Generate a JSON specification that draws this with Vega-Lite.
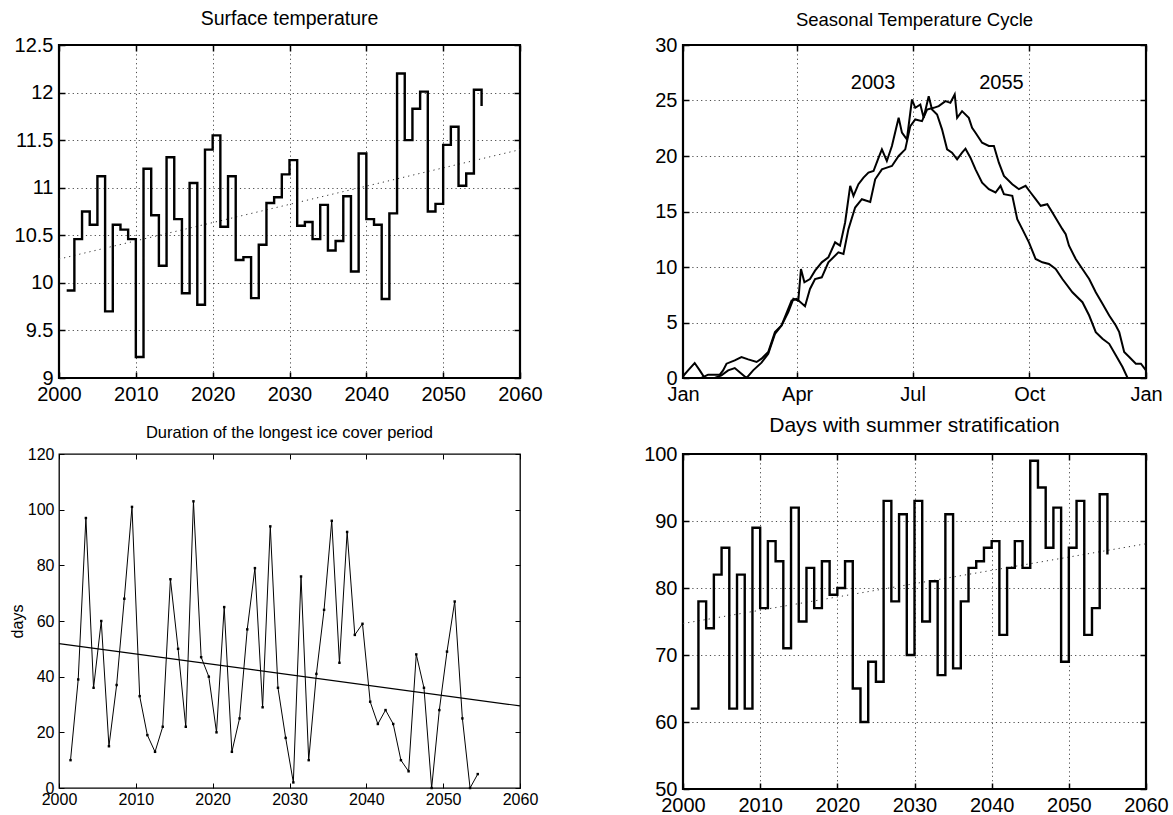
{
  "$schema": "https://vega.github.io/schema/vega-lite/v6.json",
  "background": "white",
  "padding": {"left": 8, "top": 7, "right": 5, "bottom": 2},
  "columns": 2,
  "spacing": {"row": 76, "column": 163},
  "bounds": "flush",
  "config": {
    "font": "Liberation Sans",
    "view": {"stroke": "black", "strokeWidth": 2.2},
    "axis": {
      "domain": false,
      "labelColor": "black",
      "labelFontSize": 20,
      "labelFlush": false,
      "labelOverlap": false,
      "tickColor": "black",
      "tickSize": -6,
      "tickWidth": 1.5,
      "labelPadding": 12,
      "gridColor": "black",
      "gridDash": [1.2, 3.2],
      "gridOpacity": 0.7,
      "gridWidth": 1,
      "titleColor": "black",
      "titleFontWeight": "normal"
    },
    "title": {"fontSize": 19, "fontWeight": "normal", "color": "black", "offset": 6}
  },
  "datasets": {
    "surf": [
      {"year": 2001, "v": 9.92}, {"year": 2002, "v": 10.46}, {"year": 2003, "v": 10.75}, {"year": 2004, "v": 10.61}, {"year": 2005, "v": 11.12},
      {"year": 2006, "v": 9.70}, {"year": 2007, "v": 10.61}, {"year": 2008, "v": 10.56}, {"year": 2009, "v": 10.46}, {"year": 2010, "v": 9.22},
      {"year": 2011, "v": 11.20}, {"year": 2012, "v": 10.71}, {"year": 2013, "v": 10.18}, {"year": 2014, "v": 11.32}, {"year": 2015, "v": 10.67},
      {"year": 2016, "v": 9.89}, {"year": 2017, "v": 11.05}, {"year": 2018, "v": 9.77}, {"year": 2019, "v": 11.40}, {"year": 2020, "v": 11.55},
      {"year": 2021, "v": 10.59}, {"year": 2022, "v": 11.12}, {"year": 2023, "v": 10.24}, {"year": 2024, "v": 10.27}, {"year": 2025, "v": 9.84},
      {"year": 2026, "v": 10.40}, {"year": 2027, "v": 10.84}, {"year": 2028, "v": 10.90}, {"year": 2029, "v": 11.14}, {"year": 2030, "v": 11.29},
      {"year": 2031, "v": 10.60}, {"year": 2032, "v": 10.64}, {"year": 2033, "v": 10.46}, {"year": 2034, "v": 10.82}, {"year": 2035, "v": 10.34},
      {"year": 2036, "v": 10.44}, {"year": 2037, "v": 10.91}, {"year": 2038, "v": 10.12}, {"year": 2039, "v": 11.36}, {"year": 2040, "v": 10.67},
      {"year": 2041, "v": 10.61}, {"year": 2042, "v": 9.83}, {"year": 2043, "v": 10.73}, {"year": 2044, "v": 12.20}, {"year": 2045, "v": 11.50},
      {"year": 2046, "v": 11.83}, {"year": 2047, "v": 12.01}, {"year": 2048, "v": 10.75}, {"year": 2049, "v": 10.83}, {"year": 2050, "v": 11.45},
      {"year": 2051, "v": 11.64}, {"year": 2052, "v": 11.02}, {"year": 2053, "v": 11.15}, {"year": 2054, "v": 12.03}, {"year": 2055, "v": 11.86}
    ],
    "surfTrend": [{"year": 2000, "v": 10.25}, {"year": 2060, "v": 11.40}],
    "strat": [
      {"year": 2001, "v": 62}, {"year": 2002, "v": 78}, {"year": 2003, "v": 74}, {"year": 2004, "v": 82}, {"year": 2005, "v": 86},
      {"year": 2006, "v": 62}, {"year": 2007, "v": 82}, {"year": 2008, "v": 62}, {"year": 2009, "v": 89}, {"year": 2010, "v": 77},
      {"year": 2011, "v": 87}, {"year": 2012, "v": 84}, {"year": 2013, "v": 71}, {"year": 2014, "v": 92}, {"year": 2015, "v": 75},
      {"year": 2016, "v": 83}, {"year": 2017, "v": 77}, {"year": 2018, "v": 84}, {"year": 2019, "v": 79}, {"year": 2020, "v": 80},
      {"year": 2021, "v": 84}, {"year": 2022, "v": 65}, {"year": 2023, "v": 60}, {"year": 2024, "v": 69}, {"year": 2025, "v": 66},
      {"year": 2026, "v": 93}, {"year": 2027, "v": 78}, {"year": 2028, "v": 91}, {"year": 2029, "v": 70}, {"year": 2030, "v": 93},
      {"year": 2031, "v": 75}, {"year": 2032, "v": 81}, {"year": 2033, "v": 67}, {"year": 2034, "v": 91}, {"year": 2035, "v": 68},
      {"year": 2036, "v": 78}, {"year": 2037, "v": 83}, {"year": 2038, "v": 84}, {"year": 2039, "v": 86}, {"year": 2040, "v": 87},
      {"year": 2041, "v": 73}, {"year": 2042, "v": 83}, {"year": 2043, "v": 87}, {"year": 2044, "v": 83}, {"year": 2045, "v": 99},
      {"year": 2046, "v": 95}, {"year": 2047, "v": 86}, {"year": 2048, "v": 92}, {"year": 2049, "v": 69}, {"year": 2050, "v": 86},
      {"year": 2051, "v": 93}, {"year": 2052, "v": 73}, {"year": 2053, "v": 77}, {"year": 2054, "v": 94}, {"year": 2055, "v": 85}
    ],
    "stratTrend": [{"year": 2000, "v": 74.7}, {"year": 2060, "v": 86.6}],
    "ice": [
      {"year": 2001.5, "v": 10}, {"year": 2002.5, "v": 39}, {"year": 2003.5, "v": 97}, {"year": 2004.5, "v": 36}, {"year": 2005.5, "v": 60},
      {"year": 2006.5, "v": 15}, {"year": 2007.5, "v": 37}, {"year": 2008.5, "v": 68}, {"year": 2009.5, "v": 101}, {"year": 2010.5, "v": 33},
      {"year": 2011.5, "v": 19}, {"year": 2012.5, "v": 13}, {"year": 2013.5, "v": 22}, {"year": 2014.5, "v": 75}, {"year": 2015.5, "v": 50},
      {"year": 2016.5, "v": 22}, {"year": 2017.5, "v": 103}, {"year": 2018.5, "v": 47}, {"year": 2019.5, "v": 40}, {"year": 2020.5, "v": 20},
      {"year": 2021.5, "v": 65}, {"year": 2022.5, "v": 13}, {"year": 2023.5, "v": 25}, {"year": 2024.5, "v": 57}, {"year": 2025.5, "v": 79},
      {"year": 2026.5, "v": 29}, {"year": 2027.5, "v": 94}, {"year": 2028.5, "v": 36}, {"year": 2029.5, "v": 18}, {"year": 2030.5, "v": 2},
      {"year": 2031.5, "v": 76}, {"year": 2032.5, "v": 10}, {"year": 2033.5, "v": 41}, {"year": 2034.5, "v": 64}, {"year": 2035.5, "v": 96},
      {"year": 2036.5, "v": 45}, {"year": 2037.5, "v": 92}, {"year": 2038.5, "v": 55}, {"year": 2039.5, "v": 59}, {"year": 2040.5, "v": 31},
      {"year": 2041.5, "v": 23}, {"year": 2042.5, "v": 28}, {"year": 2043.5, "v": 23}, {"year": 2044.5, "v": 10}, {"year": 2045.5, "v": 6},
      {"year": 2046.5, "v": 48}, {"year": 2047.5, "v": 36}, {"year": 2048.5, "v": 0}, {"year": 2049.5, "v": 28}, {"year": 2050.5, "v": 49},
      {"year": 2051.5, "v": 67}, {"year": 2052.5, "v": 25}, {"year": 2053.5, "v": 0}, {"year": 2054.5, "v": 5}
    ],
    "iceTrend": [{"year": 2000, "v": 51.9}, {"year": 2060, "v": 29.5}],
    "season": [
      {"s": "2003", "d": 0, "v": 0.15}, {"s": "2003", "d": 4.0, "v": 0.69}, {"s": "2003", "d": 9.2, "v": 1.35}, {"s": "2003", "d": 13.2, "v": 0.69},
      {"s": "2003", "d": 17.1, "v": 0}, {"s": "2003", "d": 25.0, "v": 0}, {"s": "2003", "d": 30.3, "v": 0.24}, {"s": "2003", "d": 35.6, "v": 0.69},
      {"s": "2003", "d": 40.8, "v": 0.9}, {"s": "2003", "d": 46.1, "v": 0.39}, {"s": "2003", "d": 50.1, "v": 0}, {"s": "2003", "d": 55.3, "v": 0.69},
      {"s": "2003", "d": 61.9, "v": 1.38}, {"s": "2003", "d": 67.2, "v": 2.19}, {"s": "2003", "d": 72.5, "v": 3.98}, {"s": "2003", "d": 77.7, "v": 4.73},
      {"s": "2003", "d": 83.0, "v": 5.93}, {"s": "2003", "d": 87.0, "v": 7.13}, {"s": "2003", "d": 90.9, "v": 6.98}, {"s": "2003", "d": 93.0, "v": 9.82},
      {"s": "2003", "d": 95.7, "v": 8.62}, {"s": "2003", "d": 100.1, "v": 8.92}, {"s": "2003", "d": 104.1, "v": 9.67}, {"s": "2003", "d": 109.4, "v": 10.42},
      {"s": "2003", "d": 114.6, "v": 10.87}, {"s": "2003", "d": 119.9, "v": 12.22}, {"s": "2003", "d": 123.8, "v": 11.92}, {"s": "2003", "d": 127.8, "v": 14.01},
      {"s": "2003", "d": 131.8, "v": 17.31}, {"s": "2003", "d": 134.4, "v": 16.41}, {"s": "2003", "d": 138.3, "v": 17.46}, {"s": "2003", "d": 142.3, "v": 18.05},
      {"s": "2003", "d": 146.2, "v": 18.5}, {"s": "2003", "d": 150.2, "v": 18.65}, {"s": "2003", "d": 154.2, "v": 19.85}, {"s": "2003", "d": 156.8, "v": 20.6},
      {"s": "2003", "d": 160.7, "v": 19.55}, {"s": "2003", "d": 164.7, "v": 20.9}, {"s": "2003", "d": 170.0, "v": 23.44}, {"s": "2003", "d": 172.6, "v": 22.1},
      {"s": "2003", "d": 176.5, "v": 21.5}, {"s": "2003", "d": 180.5, "v": 25.09}, {"s": "2003", "d": 183.1, "v": 24.34}, {"s": "2003", "d": 187.1, "v": 24.64},
      {"s": "2003", "d": 189.7, "v": 23.44}, {"s": "2003", "d": 193.7, "v": 25.39}, {"s": "2003", "d": 196.3, "v": 24.19}, {"s": "2003", "d": 200.3, "v": 23.74},
      {"s": "2003", "d": 204.2, "v": 22.4}, {"s": "2003", "d": 208.2, "v": 20.6}, {"s": "2003", "d": 212.1, "v": 20.3}, {"s": "2003", "d": 216.1, "v": 19.7},
      {"s": "2003", "d": 220.0, "v": 20.3}, {"s": "2003", "d": 222.7, "v": 20.66}, {"s": "2003", "d": 226.6, "v": 19.85}, {"s": "2003", "d": 230.6, "v": 18.8},
      {"s": "2003", "d": 235.8, "v": 17.6}, {"s": "2003", "d": 241.1, "v": 17.01}, {"s": "2003", "d": 246.4, "v": 16.71}, {"s": "2003", "d": 250.3, "v": 17.31},
      {"s": "2003", "d": 253.0, "v": 16.56}, {"s": "2003", "d": 259.6, "v": 16.41}, {"s": "2003", "d": 263.5, "v": 14.31}, {"s": "2003", "d": 267.5, "v": 13.41},
      {"s": "2003", "d": 272.7, "v": 12.22}, {"s": "2003", "d": 278.0, "v": 10.72}, {"s": "2003", "d": 283.3, "v": 10.42}, {"s": "2003", "d": 288.5, "v": 10.27},
      {"s": "2003", "d": 293.8, "v": 9.82}, {"s": "2003", "d": 299.1, "v": 8.92}, {"s": "2003", "d": 307.0, "v": 7.72}, {"s": "2003", "d": 314.9, "v": 6.83},
      {"s": "2003", "d": 320.2, "v": 5.63}, {"s": "2003", "d": 325.4, "v": 4.13}, {"s": "2003", "d": 330.7, "v": 3.53}, {"s": "2003", "d": 336.0, "v": 3.08},
      {"s": "2003", "d": 341.2, "v": 2.04}, {"s": "2003", "d": 346.5, "v": 0.99}, {"s": "2003", "d": 350.5, "v": 0}, {"s": "2003", "d": 365, "v": 0},
      {"s": "2055", "d": 0, "v": 0}, {"s": "2055", "d": 14.5, "v": 0}, {"s": "2055", "d": 19.8, "v": 0.3}, {"s": "2055", "d": 29.0, "v": 0.3},
      {"s": "2055", "d": 31.6, "v": 0.69}, {"s": "2055", "d": 34.3, "v": 1.29}, {"s": "2055", "d": 40.8, "v": 1.59}, {"s": "2055", "d": 46.1, "v": 1.89},
      {"s": "2055", "d": 51.4, "v": 1.68}, {"s": "2055", "d": 58.0, "v": 1.44}, {"s": "2055", "d": 61.9, "v": 1.74}, {"s": "2055", "d": 67.2, "v": 2.34},
      {"s": "2055", "d": 72.5, "v": 4.13}, {"s": "2055", "d": 77.7, "v": 4.73}, {"s": "2055", "d": 85.6, "v": 6.98}, {"s": "2055", "d": 89.6, "v": 7.13},
      {"s": "2055", "d": 96.2, "v": 6.47}, {"s": "2055", "d": 100.1, "v": 8.02}, {"s": "2055", "d": 104.1, "v": 8.92}, {"s": "2055", "d": 109.4, "v": 9.07},
      {"s": "2055", "d": 114.6, "v": 10.42}, {"s": "2055", "d": 122.5, "v": 11.32}, {"s": "2055", "d": 126.5, "v": 11.17}, {"s": "2055", "d": 130.4, "v": 13.41},
      {"s": "2055", "d": 135.7, "v": 15.36}, {"s": "2055", "d": 141.0, "v": 16.11}, {"s": "2055", "d": 147.6, "v": 15.87}, {"s": "2055", "d": 151.5, "v": 17.9},
      {"s": "2055", "d": 156.8, "v": 18.8}, {"s": "2055", "d": 160.7, "v": 18.95}, {"s": "2055", "d": 164.7, "v": 19.1}, {"s": "2055", "d": 170.0, "v": 20.0},
      {"s": "2055", "d": 175.2, "v": 20.6}, {"s": "2055", "d": 179.2, "v": 22.69}, {"s": "2055", "d": 183.1, "v": 23.29}, {"s": "2055", "d": 188.4, "v": 23.14},
      {"s": "2055", "d": 192.4, "v": 24.19}, {"s": "2055", "d": 197.6, "v": 24.34}, {"s": "2055", "d": 201.6, "v": 24.49}, {"s": "2055", "d": 206.9, "v": 24.94},
      {"s": "2055", "d": 210.8, "v": 24.79}, {"s": "2055", "d": 214.2, "v": 25.54}, {"s": "2055", "d": 216.1, "v": 23.44}, {"s": "2055", "d": 220.0, "v": 24.04},
      {"s": "2055", "d": 225.3, "v": 23.44}, {"s": "2055", "d": 227.9, "v": 22.54}, {"s": "2055", "d": 230.6, "v": 22.1}, {"s": "2055", "d": 235.8, "v": 21.2},
      {"s": "2055", "d": 241.1, "v": 20.9}, {"s": "2055", "d": 245.1, "v": 20.9}, {"s": "2055", "d": 249.0, "v": 19.4}, {"s": "2055", "d": 253.0, "v": 18.2},
      {"s": "2055", "d": 259.6, "v": 17.46}, {"s": "2055", "d": 264.8, "v": 17.01}, {"s": "2055", "d": 270.1, "v": 17.31}, {"s": "2055", "d": 274.0, "v": 16.71},
      {"s": "2055", "d": 278.0, "v": 16.11}, {"s": "2055", "d": 282.0, "v": 15.51}, {"s": "2055", "d": 287.2, "v": 15.66}, {"s": "2055", "d": 291.2, "v": 14.91},
      {"s": "2055", "d": 299.1, "v": 13.41}, {"s": "2055", "d": 301.7, "v": 12.96}, {"s": "2055", "d": 304.3, "v": 11.92}, {"s": "2055", "d": 309.6, "v": 10.72},
      {"s": "2055", "d": 314.9, "v": 9.82}, {"s": "2055", "d": 320.2, "v": 8.92}, {"s": "2055", "d": 325.4, "v": 7.72}, {"s": "2055", "d": 330.7, "v": 6.68},
      {"s": "2055", "d": 336.0, "v": 5.63}, {"s": "2055", "d": 341.2, "v": 4.73}, {"s": "2055", "d": 343.9, "v": 4.13}, {"s": "2055", "d": 347.8, "v": 2.34},
      {"s": "2055", "d": 351.8, "v": 1.89}, {"s": "2055", "d": 357.0, "v": 1.29}, {"s": "2055", "d": 361.0, "v": 1.29}, {"s": "2055", "d": 365, "v": 0.69}
    ],
    "seasonLabels": [{"d": 149.8, "v": 26.6, "label": "2003"}, {"d": 251, "v": 26.6, "label": "2055"}]
  },
  "concat": [
    {
      "width": 461, "height": 333,
      "title": {"text": "Surface temperature", "fontSize": 19.5},
      "resolve": {"axis": {"x": "independent", "y": "independent"}},
      "layer": [
        {
          "data": {"name": "surfTrend"},
          "mark": {"type": "line", "color": "#333333", "strokeDash": [1.2, 4], "strokeWidth": 1, "clip": true},
          "encoding": {
            "x": {"field": "year", "type": "quantitative", "scale": {"domain": [2000, 2060], "nice": false},
                  "axis": {"values": [2000, 2010, 2020, 2030, 2040, 2050, 2060], "format": "d", "title": null, "grid": true}},
            "y": {"field": "v", "type": "quantitative", "scale": {"domain": [9, 12.5], "nice": false, "zero": false},
                  "axis": {"values": [9, 9.5, 10, 10.5, 11, 11.5, 12, 12.5], "labelExpr": "'' + datum.value", "title": null, "grid": true}}
          }
        },
        {
          "data": {"name": "surf"},
          "mark": {"type": "line", "interpolate": "step-after", "color": "black", "strokeWidth": 2.4, "clip": true},
          "encoding": {
            "x": {"field": "year", "type": "quantitative", "axis": {"orient": "top", "labels": false, "grid": false, "title": null, "values": [2000, 2010, 2020, 2030, 2040, 2050, 2060]}},
            "y": {"field": "v", "type": "quantitative", "axis": {"orient": "right", "labels": false, "grid": false, "title": null, "values": [9, 9.5, 10, 10.5, 11, 11.5, 12, 12.5]}}
          }
        }
      ]
    },
    {
      "width": 463, "height": 333,
      "title": {"text": "Seasonal Temperature Cycle", "fontSize": 18.5},
      "resolve": {"axis": {"x": "independent", "y": "independent"}},
      "layer": [
        {
          "data": {"name": "season"},
          "mark": {"type": "line", "color": "black", "strokeWidth": 2, "clip": true},
          "encoding": {
            "x": {"field": "d", "type": "quantitative", "scale": {"domain": [0, 365], "nice": false},
                  "axis": {"values": [0, 90, 181, 273, 365], "labelExpr": "datum.value == 90 ? 'Apr' : datum.value == 181 ? 'Jul' : datum.value == 273 ? 'Oct' : 'Jan'", "title": null, "grid": true}},
            "y": {"field": "v", "type": "quantitative", "scale": {"domain": [0, 30], "nice": false},
                  "axis": {"values": [0, 5, 10, 15, 20, 25, 30], "title": null, "grid": true}},
            "detail": {"field": "s", "type": "nominal"}
          }
        },
        {
          "data": {"name": "seasonLabels"},
          "mark": {"type": "text", "color": "black", "fontSize": 20, "font": "Liberation Sans"},
          "encoding": {
            "x": {"field": "d", "type": "quantitative", "axis": {"orient": "top", "labels": false, "grid": false, "title": null, "values": [0, 90, 181, 273, 365]}},
            "y": {"field": "v", "type": "quantitative", "axis": {"orient": "right", "labels": false, "grid": false, "title": null, "values": [0, 5, 10, 15, 20, 25, 30]}},
            "text": {"field": "label", "type": "nominal"}
          }
        }
      ]
    },
    {
      "width": 461, "height": 334,
      "title": {"text": "Duration of the longest ice cover period", "fontSize": 16.5, "offset": 5},
      "view": {"stroke": "black", "strokeWidth": 1.3},
      "resolve": {"axis": {"x": "independent", "y": "independent"}},
      "layer": [
        {
          "data": {"name": "iceTrend"},
          "mark": {"type": "line", "color": "black", "strokeWidth": 1.2},
          "encoding": {
            "x": {"field": "year", "type": "quantitative", "scale": {"domain": [2000, 2060], "nice": false},
                  "axis": {"values": [2000, 2010, 2020, 2030, 2040, 2050, 2060], "format": "d", "title": null, "grid": false, "labelFontSize": 16, "tickSize": -5, "tickWidth": 1, "labelPadding": 8}},
            "y": {"field": "v", "type": "quantitative", "scale": {"domain": [0, 120], "nice": false},
                  "axis": {"values": [0, 20, 40, 60, 80, 100, 120], "title": "days", "titleFontSize": 16, "titlePadding": 2, "grid": false, "labelFontSize": 16, "tickSize": -5, "tickWidth": 1, "labelPadding": 10}}
          }
        },
        {
          "data": {"name": "ice"},
          "mark": {"type": "line", "color": "black", "strokeWidth": 1, "point": {"filled": true, "color": "black", "size": 6, "shape": "square"}},
          "encoding": {
            "x": {"field": "year", "type": "quantitative", "axis": {"orient": "top", "labels": false, "grid": false, "title": null, "tickSize": -5, "tickWidth": 1, "values": [2000, 2010, 2020, 2030, 2040, 2050, 2060]}},
            "y": {"field": "v", "type": "quantitative", "axis": {"orient": "right", "labels": false, "grid": false, "title": null, "tickSize": -5, "tickWidth": 1, "values": [0, 20, 40, 60, 80, 100, 120]}}
          }
        }
      ]
    },
    {
      "width": 463, "height": 335,
      "title": {"text": "Days with summer stratification", "fontSize": 21, "offset": 8},
      "resolve": {"axis": {"x": "independent", "y": "independent"}},
      "layer": [
        {
          "data": {"name": "stratTrend"},
          "mark": {"type": "line", "color": "#333333", "strokeDash": [1.2, 4], "strokeWidth": 1, "clip": true},
          "encoding": {
            "x": {"field": "year", "type": "quantitative", "scale": {"domain": [2000, 2060], "nice": false},
                  "axis": {"values": [2000, 2010, 2020, 2030, 2040, 2050, 2060], "format": "d", "title": null, "grid": true}},
            "y": {"field": "v", "type": "quantitative", "scale": {"domain": [50, 100], "nice": false, "zero": false},
                  "axis": {"values": [50, 60, 70, 80, 90, 100], "title": null, "grid": true}}
          }
        },
        {
          "data": {"name": "strat"},
          "mark": {"type": "line", "interpolate": "step-after", "color": "black", "strokeWidth": 2.4, "clip": true},
          "encoding": {
            "x": {"field": "year", "type": "quantitative", "axis": {"orient": "top", "labels": false, "grid": false, "title": null, "values": [2000, 2010, 2020, 2030, 2040, 2050, 2060]}},
            "y": {"field": "v", "type": "quantitative", "axis": {"orient": "right", "labels": false, "grid": false, "title": null, "values": [50, 60, 70, 80, 90, 100]}}
          }
        }
      ]
    }
  ]
}
